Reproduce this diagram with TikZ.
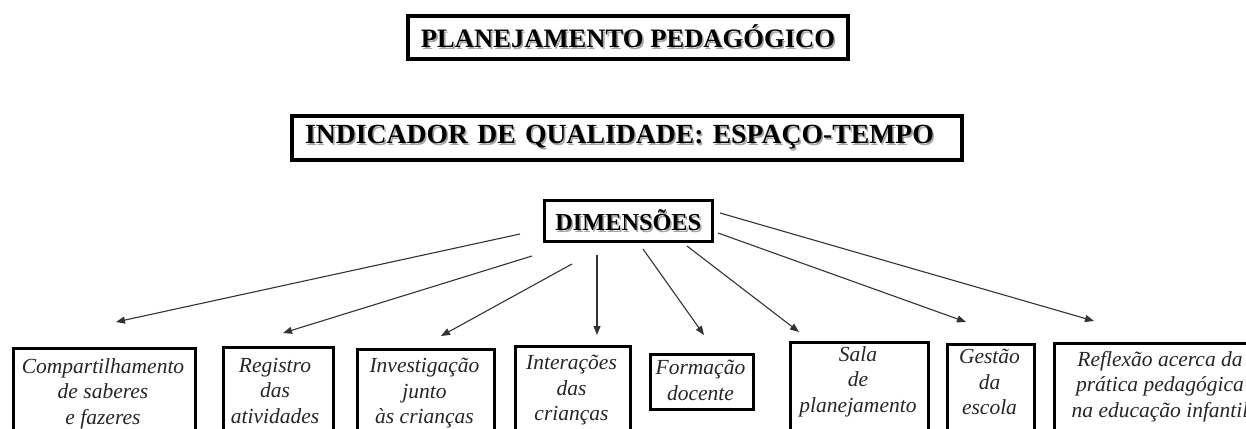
\documentclass[tikz,border=0pt]{standalone}
\usepackage{fontspec}
\setmainfont{Liberation Serif}
\usetikzlibrary{arrows.meta}
\newcommand\shtext[1]{\makebox[0pt][l]{\hspace{1.6pt}\raisebox{-1.6pt}{\color{black!35}#1}}#1}
\tikzset{
  titlebox/.style={draw, line width=3.1pt, inner sep=0pt},
  itembox/.style={draw, line width=2.6pt, anchor=north west, inner sep=0pt},
  itemtext/.style={font=\itshape\fontsize{21.5}{25.5}\selectfont, align=center, anchor=north, inner sep=0pt, text=black!85},
  arr/.style={-{Triangle[length=9pt,width=7pt]}, line width=1.1pt, color=black!80}
}
\begin{document}
\begin{tikzpicture}[x=1pt,y=-1pt]
\useasboundingbox (0,0) rectangle (1246,428);
\fill[white] (0,0) rectangle (1246,428);

% titles
\node[titlebox, minimum width=440pt, minimum height=43pt,
      font=\bfseries\fontsize{26.6}{30}\selectfont] (title) at (628,37.5) {\shtext{PLANEJAMENTO PEDAGÓGICO}};
\node[titlebox, minimum height=44pt, text width=644pt, inner xsep=13pt, align=left,
      font=\bfseries\fontsize{27.7}{30}\selectfont] (ind) at (627,138) {\shtext{INDICADOR DE QUALIDADE: ESPAÇO-TEMPO}};
\node[titlebox, minimum width=168pt, minimum height=41pt,
      font=\bfseries\fontsize{24.3}{28}\selectfont] (dim) at (628.3,221) {\shtext{DIMENSÕES}};

% bottom boxes
\begin{scope}
\clip (0,0) rectangle (1246,428);
\node[itembox, minimum width=182pt, minimum height=120pt] (b1) at (12,347) {};
\node[itembox, minimum width=110pt, minimum height=120pt] (b2) at (222,346) {};
\node[itembox, minimum width=137pt, minimum height=120pt] (b3) at (356,348) {};
\node[itembox, minimum width=115pt, minimum height=120pt] (b4) at (514,345) {};
\node[itembox, minimum width=103pt, minimum height=55pt] (b5) at (649,353) {};
\node[itembox, minimum width=138pt, minimum height=120pt] (b6) at (789,341) {};
\node[itembox, minimum width=87pt, minimum height=120pt] (b7) at (946,343) {};
\node[itembox, minimum width=214pt, minimum height=120pt] (b8) at (1053,342) {};

\node[itemtext] (t1) at (103,358) {Compartilhamento\\de saberes\\e fazeres};
\node[itemtext] (t2) at (275,358) {Registro\\das\\atividades};
\node[itemtext] (t3) at (424.5,358) {Investigação\\junto\\às crianças};
\node[itemtext] (t4) at (571.5,355) {Interações\\das\\crianças};
\node[itemtext] (t5) at (700.5,360) {Formação\\docente};
\node[itemtext] (t6) at (858,346) {Sala\\de\\planejamento};
\node[itemtext] (t7) at (989.5,349) {Gestão\\da\\escola};
\node[itemtext] (t8) at (1160,351) {Reflexão acerca da\\prática pedagógica\\na educação infantil};
\end{scope}

% connectors
\coordinate (s1) at (520,234);  \coordinate (e1) at (116,322);
\coordinate (s2) at (532,256);  \coordinate (e2) at (283,333);
\coordinate (s3) at (572,264);  \coordinate (e3) at (441,336);
\coordinate (s4) at (597,255);  \coordinate (e4) at (597,335);
\coordinate (s5) at (643,249);  \coordinate (e5) at (704,335);
\coordinate (s6) at (687,246);  \coordinate (e6) at (799,332);
\coordinate (s7) at (718,233);  \coordinate (e7) at (966,322);
\coordinate (s8) at (720,213);  \coordinate (e8) at (1094,321);
\foreach \i in {1,...,8} { \draw[arr] (s\i) -- (e\i); }
\end{tikzpicture}
\end{document}
